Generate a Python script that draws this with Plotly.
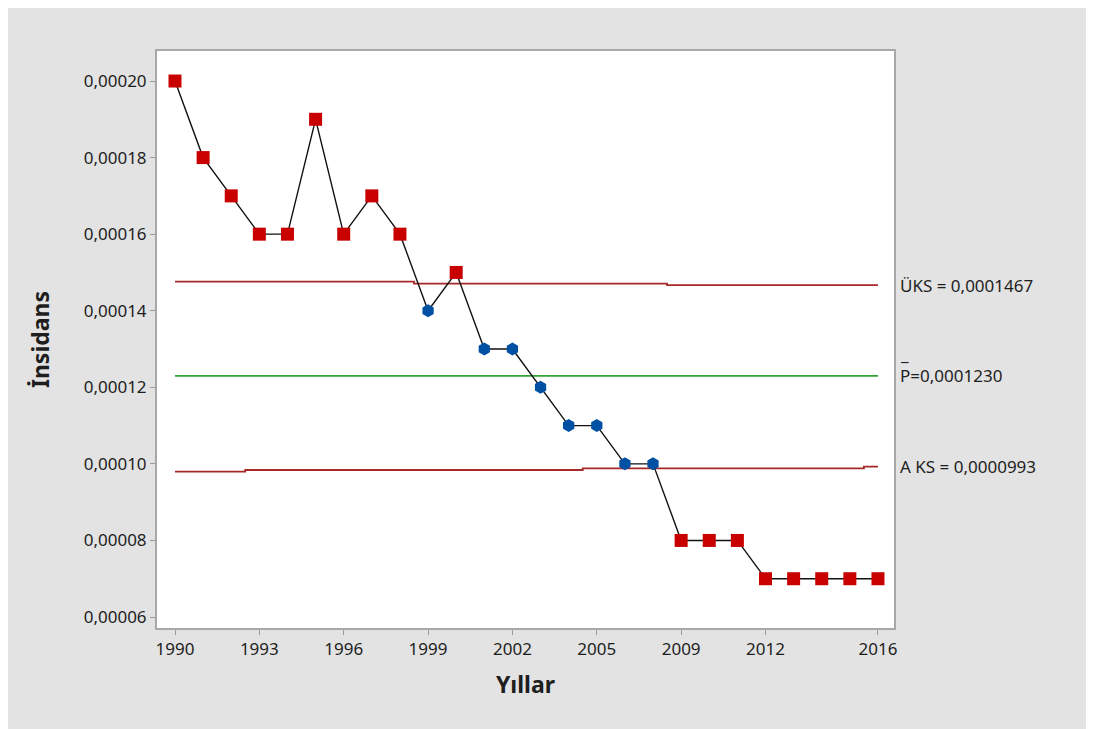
import plotly.graph_objects as go

# yearly incidence (P chart)
years = ["1990", "1991", "1992", "1993", "1994", "1995", "1996", "1997", "1998",
         "1999", "2000", "2001", "2002", "2003", "2004", "2005", "2007", "2008",
         "2009", "2010", "2011", "2012", "2013", "2014", "2015", "2016"]
incidence = [0.00020, 0.00018, 0.00017, 0.00016, 0.00016, 0.00019, 0.00016, 0.00017, 0.00016,
             0.00014, 0.00015, 0.00013, 0.00013, 0.00012, 0.00011, 0.00011, 0.00010, 0.00010,
             0.00008, 0.00008, 0.00008, 0.00007, 0.00007, 0.00007, 0.00007, 0.00007]
ucl = [0.0001476] * 9 + [0.0001471] * 9 + [0.0001467] * 8
lcl = [0.0000980] * 3 + [0.0000984] * 12 + [0.0000988] * 10 + [0.0000993]
p_bar = 0.0001230
tick_years = ["1990", "1993", "1996", "1999", "2002", "2005", "2009", "2012", "2016"]

# points outside the limits get red squares, the rest blue
out_of_control = [v > u or v < l for v, u, l in zip(incidence, ucl, lcl)]
colors = ["#c80000" if o else "#0050a4" for o in out_of_control]
symbols = ["square" if o else "hexagon" for o in out_of_control]

fig = go.Figure()

fig.add_trace(go.Scatter(x=years, y=ucl, mode="lines", line=dict(color="#a82828", width=1.8, shape="hvh"),
                         hoverinfo="skip"))
fig.add_trace(go.Scatter(x=years, y=lcl, mode="lines", line=dict(color="#a82828", width=1.8, shape="hvh"),
                         hoverinfo="skip"))
fig.add_trace(go.Scatter(x=years, y=[p_bar] * len(years), mode="lines",
                         line=dict(color="#33a033", width=1.8), hoverinfo="skip"))
fig.add_trace(go.Scatter(
    x=years, y=incidence, mode="lines+markers",
    line=dict(color="#111111", width=1.4),
    marker=dict(color=colors, symbol=symbols, size=13, opacity=1, line=dict(width=0)),
))

txt_font = dict(family="Noto Sans", size=17, color="#1e1e1e")
labels = [
    (ucl[-1], "ÜKS = 0,0001467"),
    (p_bar, "P=0,0001230"),
    (lcl[-1], "A KS = 0,0000993"),
]
for yv, t in labels:
    fig.add_annotation(x=1.005, xref="paper", y=yv, yref="y", text=t, showarrow=False,
                       xanchor="left", yanchor="middle", font=txt_font)
fig.add_annotation(x=1.005, xref="paper", y=p_bar, yref="y", yshift=21, text="_", showarrow=False,
                   xanchor="left", yanchor="middle", font=txt_font)

fig.update_layout(
    width=1094,
    height=729,
    margin=dict(l=149, r=208, t=43, b=109),
    paper_bgcolor="#e3e3e3",
    plot_bgcolor="#ffffff",
    separators=",.",
    showlegend=False,
    font=dict(family="Noto Sans", size=17, color="#1e1e1e"),
)

fig.update_xaxes(
    type="category",
    range=[-0.64, 25.57],
    tickvals=tick_years,
    ticktext=tick_years,
    ticks="outside", ticklen=5, tickcolor="#9a9a9a",
    showline=True, linecolor="#a8a8a8", linewidth=2, mirror=True,
    showgrid=False, zeroline=False,
    tickfont=dict(size=17),
    title=dict(text="<b>Yıllar</b>", font=dict(size=23), standoff=17),
)
fig.update_yaxes(
    range=[0.00005713, 0.00020784],
    tickvals=[0.00006, 0.00008, 0.00010, 0.00012, 0.00014, 0.00016, 0.00018, 0.00020],
    tickformat=".5f",
    ticks="outside", ticklen=5, tickcolor="#9a9a9a",
    showline=True, linecolor="#a8a8a8", linewidth=2, mirror=True,
    showgrid=False, zeroline=False,
    tickfont=dict(size=17),
    title=dict(text="<b>İnsidans</b>", font=dict(size=23), standoff=28),
)

fig.write_html("out.html")
